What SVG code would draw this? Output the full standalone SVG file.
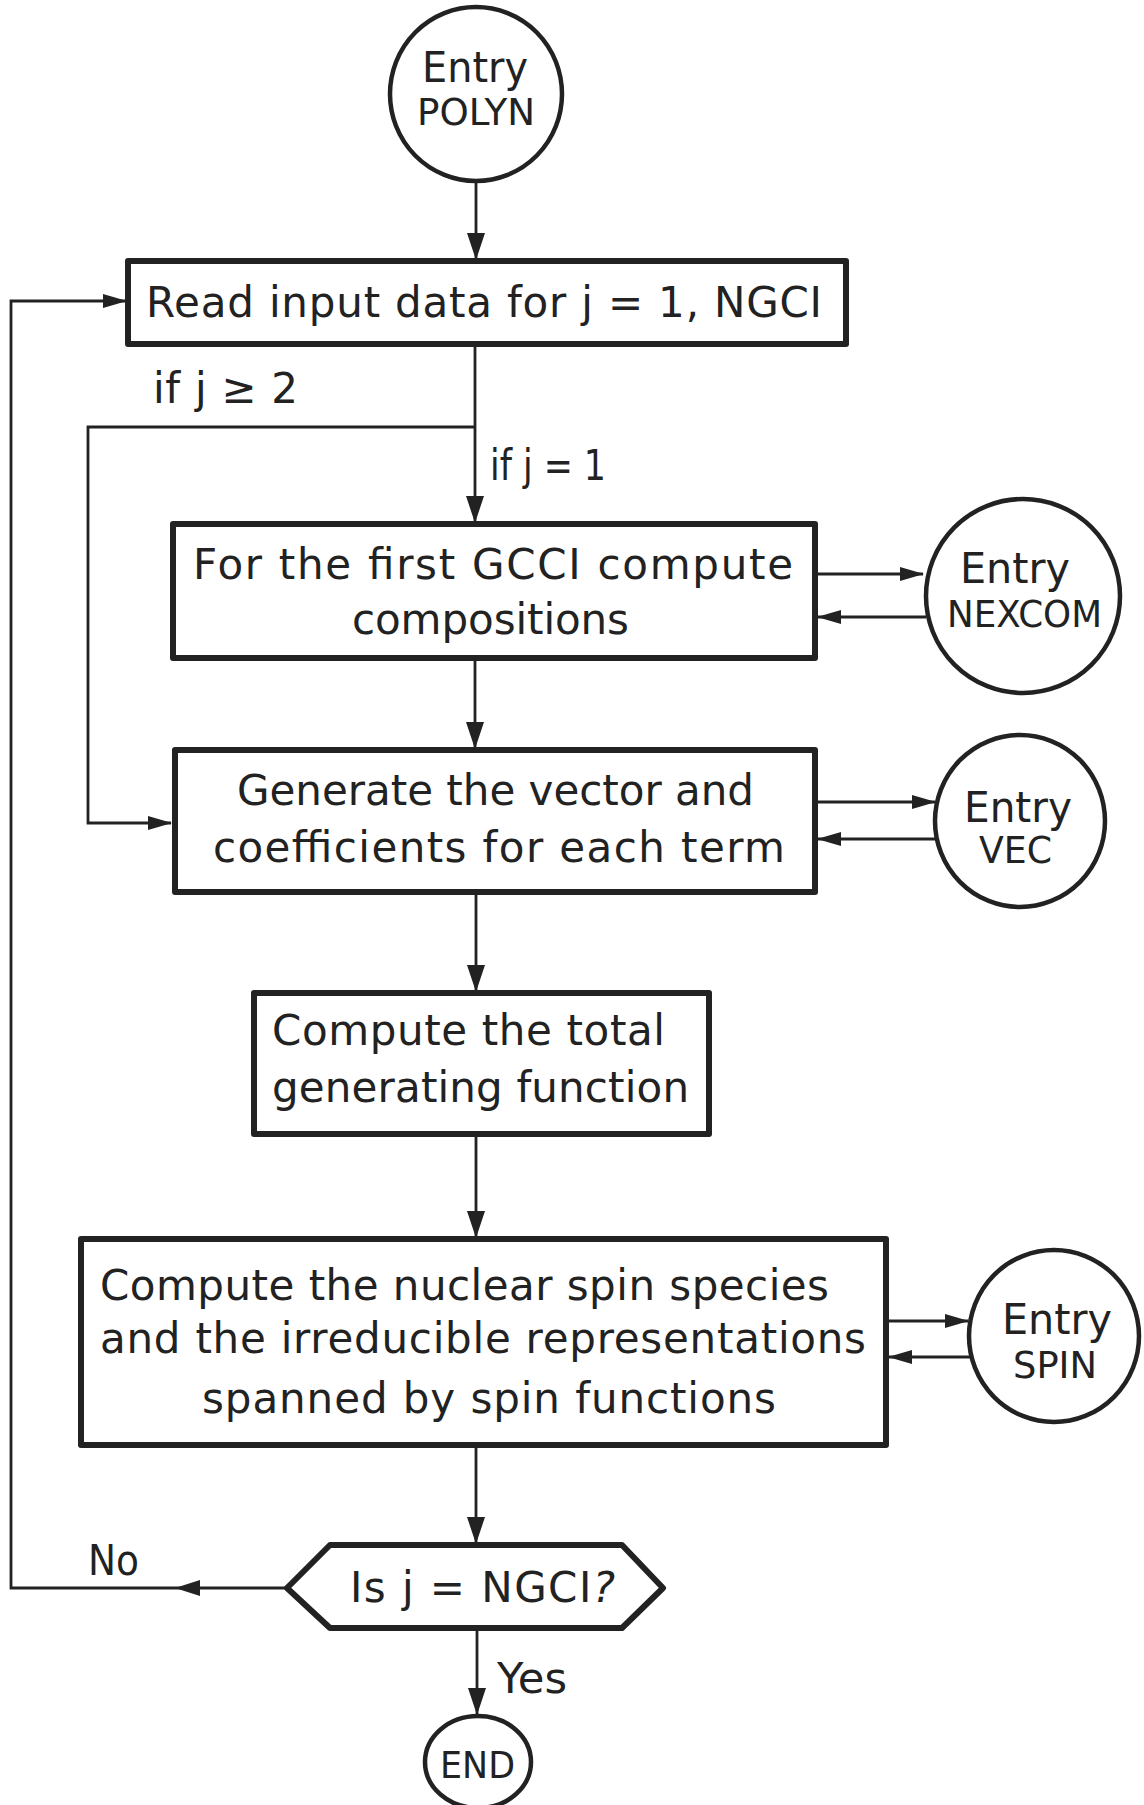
<svg xmlns="http://www.w3.org/2000/svg" width="1144" height="1805" viewBox="0 0 1144 1805">
  <style>
    .box { fill: #fff; stroke: #222; stroke-width: 6; stroke-linejoin: round; }
    .term { fill: #fff; stroke: #222; stroke-width: 4.5; }
    .wire { fill: none; stroke: #222; stroke-width: 2.8; }
    .lbl { font-family: "DejaVu Sans", "Liberation Sans", sans-serif; fill: #222; font-size: 42px; }
    .sm { font-size: 37px; }
  </style>
  <defs>
    <marker id="arrow" markerUnits="userSpaceOnUse" markerWidth="27" markerHeight="18" refX="26" refY="9" orient="auto">
      <path d="M0,0 L27,9 L0,18 z" fill="#222"/>
    </marker>
    <marker id="arrow-s" markerUnits="userSpaceOnUse" markerWidth="24" markerHeight="14" refX="23" refY="7" orient="auto">
      <path d="M0,0 L24,7 L0,14 z" fill="#222"/>
    </marker>
  </defs>
  <rect width="1144" height="1805" fill="#fff"/>

  <!-- connectors and their labels -->
  <g id="connectors">
    <line class="wire" x1="476" y1="182" x2="476" y2="259" marker-end="url(#arrow)"/>
    <line class="wire" x1="475" y1="344" x2="475" y2="522" marker-end="url(#arrow)"/>
    <polyline class="wire" points="475,427 88,427 88,823 171,823" marker-end="url(#arrow-s)"/>
    <line class="wire" x1="475" y1="658" x2="475" y2="748" marker-end="url(#arrow)"/>
    <line class="wire" x1="476" y1="892" x2="476" y2="991" marker-end="url(#arrow)"/>
    <line class="wire" x1="476" y1="1134" x2="476" y2="1237" marker-end="url(#arrow)"/>
    <line class="wire" x1="476" y1="1445" x2="476" y2="1543" marker-end="url(#arrow)"/>
    <line class="wire" x1="477" y1="1628" x2="477" y2="1714" marker-end="url(#arrow)"/>
    <polyline class="wire" points="287,1588 11,1588 11,301 126,301" marker-end="url(#arrow-s)"/>
    <polygon points="175,1588 200,1580 200,1596" fill="#222"/>
    <line class="wire" x1="815" y1="574" x2="923" y2="574" marker-end="url(#arrow-s)"/>
    <line class="wire" x1="926" y1="617" x2="818" y2="617" marker-end="url(#arrow-s)"/>
    <line class="wire" x1="815" y1="802" x2="935" y2="802" marker-end="url(#arrow-s)"/>
    <line class="wire" x1="935" y1="839" x2="818" y2="839" marker-end="url(#arrow-s)"/>
    <line class="wire" x1="886" y1="1321" x2="968" y2="1321" marker-end="url(#arrow-s)"/>
    <line class="wire" x1="971" y1="1357" x2="889" y2="1357" marker-end="url(#arrow-s)"/>
    <text class="lbl" x="153" y="403" textLength="145" lengthAdjust="spacing">if j ≥ 2</text>
    <text class="lbl" x="490" y="480" textLength="116" lengthAdjust="spacingAndGlyphs">if j = 1</text>
    <text class="lbl" x="88" y="1575" textLength="51" lengthAdjust="spacingAndGlyphs">No</text>
    <text class="lbl" x="497" y="1693" textLength="70" lengthAdjust="spacingAndGlyphs">Yes</text>
  </g>

  <!-- entry POLYN -->
  <g id="entry-polyn">
    <ellipse class="term" cx="476" cy="94" rx="86" ry="87"/>
    <text class="lbl" x="422" y="82" font-size="44" textLength="106" lengthAdjust="spacingAndGlyphs">Entry</text>
    <text class="lbl sm" x="417" y="125" textLength="118" lengthAdjust="spacingAndGlyphs">POLYN</text>
  </g>

  <!-- read input -->
  <g id="read-input">
    <rect class="box" x="128" y="261" width="718" height="83"/>
    <text class="lbl" x="146" y="317" textLength="676" lengthAdjust="spacing">Read input data for j = 1, NGCI</text>
  </g>

  <!-- compositions -->
  <g id="compositions">
    <rect class="box" x="173" y="524" width="642" height="134"/>
    <text class="lbl" x="193" y="579" textLength="600" lengthAdjust="spacing">For the first GCCI compute</text>
    <text class="lbl" x="352" y="634" textLength="277" lengthAdjust="spacing">compositions</text>
  </g>

  <!-- entry NEXCOM -->
  <g id="entry-nexcom">
    <circle class="term" cx="1023" cy="596" r="97"/>
    <text class="lbl" x="960" y="583" textLength="110" lengthAdjust="spacingAndGlyphs">Entry</text>
    <text class="lbl sm" x="947" y="627" textLength="155" lengthAdjust="spacingAndGlyphs">NEXCOM</text>
  </g>

  <!-- vector and coefficients -->
  <g id="vector-coefficients">
    <rect class="box" x="175" y="750" width="640" height="142"/>
    <text class="lbl" x="237" y="805" textLength="517" lengthAdjust="spacing">Generate the vector and</text>
    <text class="lbl" x="213" y="862" textLength="572" lengthAdjust="spacing">coefficients for each term</text>
  </g>

  <!-- entry VEC -->
  <g id="entry-vec">
    <ellipse class="term" cx="1020" cy="821" rx="85" ry="86"/>
    <text class="lbl" x="964" y="822" textLength="108" lengthAdjust="spacingAndGlyphs">Entry</text>
    <text class="lbl sm" x="979" y="863" textLength="73" lengthAdjust="spacingAndGlyphs">VEC</text>
  </g>

  <!-- total generating function -->
  <g id="generating-function">
    <rect class="box" x="254" y="993" width="455" height="141"/>
    <text class="lbl" x="272" y="1045" textLength="393" lengthAdjust="spacing">Compute the total</text>
    <text class="lbl" x="272" y="1102" textLength="417" lengthAdjust="spacing">generating function</text>
  </g>

  <!-- nuclear spin species -->
  <g id="spin-species">
    <rect class="box" x="81" y="1239" width="805" height="206"/>
    <text class="lbl" x="100" y="1300" textLength="729" lengthAdjust="spacing">Compute the nuclear spin species</text>
    <text class="lbl" x="100" y="1353" textLength="766" lengthAdjust="spacing">and the irreducible representations</text>
    <text class="lbl" x="202" y="1413" textLength="574" lengthAdjust="spacing">spanned by spin functions</text>
  </g>

  <!-- entry SPIN -->
  <g id="entry-spin">
    <ellipse class="term" cx="1054" cy="1336" rx="85" ry="86"/>
    <text class="lbl" x="1002" y="1334" textLength="110" lengthAdjust="spacingAndGlyphs">Entry</text>
    <text class="lbl sm" x="1013" y="1378" textLength="84" lengthAdjust="spacingAndGlyphs">SPIN</text>
  </g>

  <!-- decision -->
  <g id="decision">
    <polygon class="box" points="287,1588 330,1545 622,1545 663,1588 622,1628 330,1628"/>
    <text class="lbl" x="350" y="1602" textLength="265" lengthAdjust="spacing">Is j = NGCI<tspan font-style="italic">?</tspan></text>
  </g>

  <!-- end -->
  <g id="end">
    <ellipse class="term" cx="478" cy="1762" rx="53" ry="46"/>
    <text class="lbl sm" x="440" y="1778" textLength="75" lengthAdjust="spacingAndGlyphs">END</text>
  </g>
</svg>
